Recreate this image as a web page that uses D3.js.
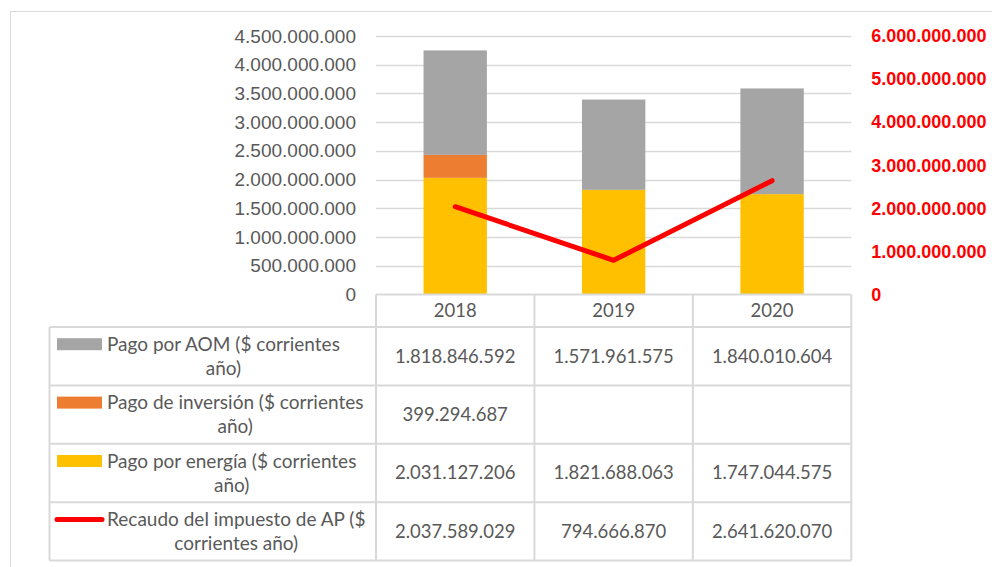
<!DOCTYPE html>
<html>
<head>
<meta charset="utf-8">
<script src="https://cdn.jsdelivr.net/npm/d3@7"></script>
<style>
  body { margin: 0; background: #fff; }
  svg { display: block; font-family: Lato, "Open Sans", sans-serif; }
</style>
</head>
<body>
<div id="chart"></div>
<script>
// values
var years = ["2018", "2019", "2020"];
var pagoAOM = [1818846592, 1571961575, 1840010604];
var pagoInversion = [399294687, null, null];
var pagoEnergia = [2031127206, 1821688063, 1747044575];
var recaudoAP = [2037589029, 794666870, 2641620070];
var leftTicks = [0, 500000000, 1000000000, 1500000000, 2000000000, 2500000000, 3000000000, 3500000000, 4000000000, 4500000000];
var rightTicks = [0, 1000000000, 2000000000, 3000000000, 4000000000, 5000000000, 6000000000];
var seriesLabels = [
  ["Pago por AOM ($ corrientes", "año)"],
  ["Pago de inversión ($ corrientes", "año)"],
  ["Pago por energía ($ corrientes", "año)"],
  ["Recaudo del impuesto de AP ($", "corrientes año)"]
];

function draw() {
  var w = 992, h = 567;
  var plotTop = 36, plotBottom = 294.5;
  var left = 376, right = 851.3;
  var rowH = 58.4, headerH = 32.5;
  var textColor = "#595959", gridColor = "#d9d9d9";

  var fmt = d3.formatLocale({decimal: ",", thousands: ".", grouping: [3], currency: ["$", ""]}).format(",d");

  var svg = d3.select("#chart").append("svg")
      .attr("width", w)
      .attr("height", h);

  // outer chart frame
  svg.append("rect")
      .attr("x", 10.5).attr("y", 11.5)
      .attr("width", 1000).attr("height", 600)
      .attr("fill", "none")
      .attr("stroke", gridColor);

  var x = d3.scaleBand().domain(years).range([left, right]).padding(0);
  var y = d3.scaleLinear().domain([0, 4500000000]).range([plotBottom, plotTop]);
  var y2 = d3.scaleLinear().domain([0, 6000000000]).range([plotBottom, plotTop]);

  // gridlines
  svg.append("g")
    .selectAll("line")
    .data(leftTicks.slice(1))
    .enter().append("line")
      .attr("x1", left).attr("x2", right)
      .attr("y1", d => Math.round(y(d)) + 0.5)
      .attr("y2", d => Math.round(y(d)) + 0.5)
      .attr("stroke", gridColor)
      .attr("stroke-width", 1.5);

  // left axis
  var yAxis = svg.append("g")
      .attr("transform", "translate(" + left + ",0)")
      .call(d3.axisLeft(y).tickValues(leftTicks).tickSize(0).tickPadding(20).tickFormat(fmt));
  yAxis.select(".domain").remove();
  yAxis.selectAll("text")
      .attr("fill", textColor)
      .style("font-size", "19px");

  // right axis
  var y2Axis = svg.append("g")
      .attr("transform", "translate(" + right + ",0)")
      .call(d3.axisRight(y2).tickValues(rightTicks).tickSize(0).tickPadding(20).tickFormat(fmt));
  y2Axis.select(".domain").remove();
  y2Axis.selectAll("text")
      .attr("fill", "#ff0000")
      .style("font-size", "18px")
      .style("font-weight", "bold");

  // stacked bars
  var stackData = years.map((yr, i) => ({
    year: yr,
    energia: pagoEnergia[i] || 0,
    inversion: pagoInversion[i] || 0,
    aom: pagoAOM[i] || 0
  }));
  var keys = ["energia", "inversion", "aom"];
  var colors = {energia: "#ffc000", inversion: "#ed7d31", aom: "#a5a5a5"};
  var stacked = d3.stack().keys(keys)(stackData);
  var barW = x.bandwidth() * 0.4;

  svg.append("g")
    .selectAll("g")
    .data(stacked)
    .enter().append("g")
      .attr("fill", d => colors[d.key])
    .selectAll("rect")
    .data(d => d.filter(p => p[1] > p[0]))
    .enter().append("rect")
      .attr("x", d => x(d.data.year) + (x.bandwidth() - barW) / 2)
      .attr("y", d => y(d[1]))
      .attr("width", barW)
      .attr("height", d => y(d[0]) - y(d[1]));

  // line on secondary axis
  var line = d3.line()
      .x((d, i) => x(years[i]) + x.bandwidth() / 2)
      .y(d => y2(d));
  svg.append("path")
      .datum(recaudoAP)
      .attr("d", line)
      .attr("fill", "none")
      .attr("stroke", "#ff0000")
      .attr("stroke-width", 5)
      .attr("stroke-linejoin", "round")
      .attr("stroke-linecap", "round");

  // data table
  var tableLeft = 49.5;
  var tableTop = plotBottom + headerH;
  var tableBottom = tableTop + rowH * 4;
  var grid = svg.append("g")
      .attr("stroke", gridColor)
      .attr("stroke-width", 2)
      .attr("fill", "none");

  // header row lines
  grid.append("line")
      .attr("x1", left).attr("x2", right)
      .attr("y1", plotBottom).attr("y2", plotBottom);
  d3.range(5).forEach(r => {
    grid.append("line")
        .attr("x1", tableLeft).attr("x2", right)
        .attr("y1", tableTop + r * rowH).attr("y2", tableTop + r * rowH);
  });
  grid.append("line")
      .attr("x1", tableLeft).attr("x2", tableLeft)
      .attr("y1", tableTop).attr("y2", tableBottom);
  years.concat(["end"]).forEach((yr, i) => {
    var xx = i < years.length ? x(yr) : right;
    grid.append("line")
        .attr("x1", xx).attr("x2", xx)
        .attr("y1", plotBottom).attr("y2", tableBottom);
  });

  // year labels
  svg.append("g")
    .selectAll("text")
    .data(years)
    .enter().append("text")
      .attr("x", d => x(d) + x.bandwidth() / 2)
      .attr("y", plotBottom + headerH / 2)
      .attr("dy", "0.35em")
      .attr("text-anchor", "middle")
      .attr("fill", textColor)
      .style("font-size", "18.5px")
      .text(d => d);

  var rows = [pagoAOM, pagoInversion, pagoEnergia, recaudoAP];
  var rowColors = ["#a5a5a5", "#ed7d31", "#ffc000", "#ff0000"];

  rows.forEach((vals, r) => {
    var cy = tableTop + r * rowH + rowH / 2;

    // values
    svg.append("g")
      .selectAll("text")
      .data(vals)
      .enter().append("text")
        .attr("x", (d, i) => x(years[i]) + x.bandwidth() / 2)
        .attr("y", cy)
        .attr("dy", "0.35em")
        .attr("text-anchor", "middle")
        .attr("fill", textColor)
        .style("font-size", "18.5px")
        .text(d => d == null ? "" : fmt(d));

    // legend key
    var l1y = cy - 12, l2y = cy + 12;
    if (r === 3) {
      svg.append("line")
          .attr("x1", 57).attr("x2", 102)
          .attr("y1", l1y).attr("y2", l1y)
          .attr("stroke", rowColors[r])
          .attr("stroke-width", 5)
          .attr("stroke-linecap", "round");
    } else {
      svg.append("rect")
          .attr("x", 57).attr("y", l1y - 6)
          .attr("width", 45).attr("height", 12)
          .attr("fill", rowColors[r]);
    }
    var t1 = svg.append("text")
        .attr("x", 107)
        .attr("y", l1y)
        .attr("dy", "0.35em")
        .attr("fill", textColor)
        .style("font-size", "19px")
        .text(seriesLabels[r][0]);
    var len = t1.node().getComputedTextLength();
    svg.append("text")
        .attr("x", 107 + len / 2)
        .attr("y", l2y)
        .attr("dy", "0.35em")
        .attr("text-anchor", "middle")
        .attr("fill", textColor)
        .style("font-size", "19px")
        .text(seriesLabels[r][1]);
  });
}

window.onload = draw;
</script>
</body>
</html>
